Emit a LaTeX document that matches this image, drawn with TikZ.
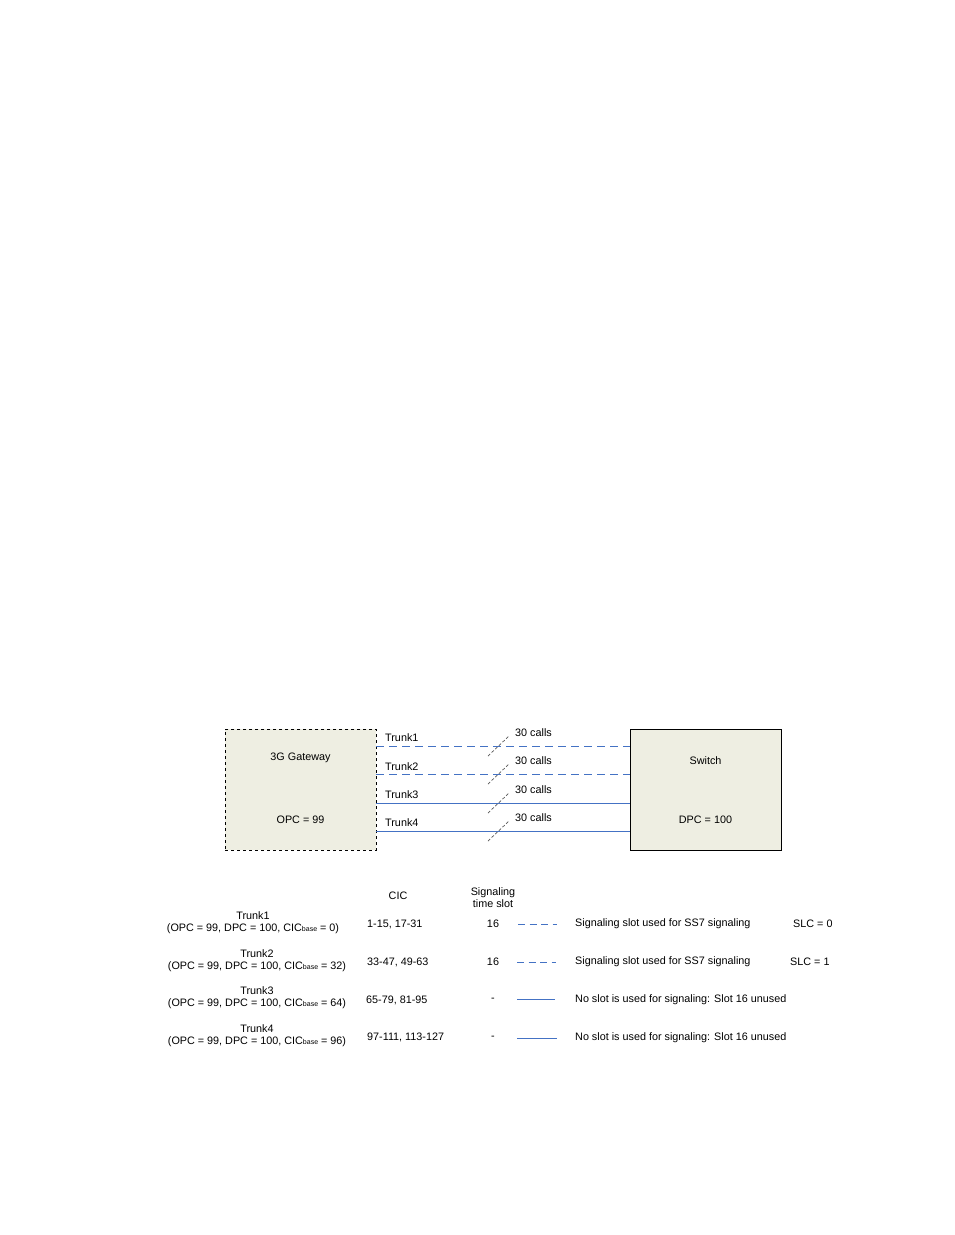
\documentclass[tikz,border=0pt]{standalone}
\usepackage{fontspec}
\setmainfont{Liberation Sans}
\begin{document}
\begin{tikzpicture}[x=1pt,y=-1pt,
  every node/.style={font=\fontsize{10.8}{12}\selectfont, inner sep=0pt},
  box/.style={fill=boxfill, draw=black, line width=0.8pt},
  sigline/.style={draw=lineblue, line width=0.9pt, dash pattern=on 8pt off 5pt},
  plainline/.style={draw=lineblue, line width=0.9pt},
  slashline/.style={draw=black!65, line width=0.7pt, dash pattern=on 3pt off 2pt},
  lbl/.style={anchor=west},
  ]
\definecolor{boxfill}{RGB}{238,238,226}
\definecolor{lineblue}{RGB}{68,114,196}
\useasboundingbox (0,0) rectangle (954,1235);
\fill[white] (0,0) rectangle (954,1235);

% boxes
\node[box, dashed, minimum width=151pt, minimum height=121pt, anchor=north west] (gw) at (225,729) {};
\node[box, minimum width=151pt, minimum height=121pt, anchor=north west] (sw) at (630,729) {};
\node (gwt) at (300.5,758) {3G Gateway};
\node (gwo) at (300.5,820) {OPC = 99};
\node (swt) at (705.5,761) {Switch};
\node (swd) at (705.5,820) {DPC = 100};

% trunk endpoints
\coordinate (a1) at (376,746); \coordinate (b1) at (630,746);
\coordinate (a2) at (376,774); \coordinate (b2) at (630,774);
\coordinate (a3) at (376,803); \coordinate (b3) at (630,803);
\coordinate (a4) at (376,831); \coordinate (b4) at (630,831);
\draw[sigline] (a1) -- (b1);
\draw[sigline] (a2) -- (b2);
\draw[plainline] (a3) -- (b3);
\draw[plainline] (a4) -- (b4);

\node[lbl] (t1) at (385,738) {Trunk1};
\node[lbl] (t2) at (385,767) {Trunk2};
\node[lbl] (t3) at (385,795) {Trunk3};
\node[lbl] (t4) at (385,823) {Trunk4};

% slashes and call labels
\foreach \i/\y in {1/746,2/774,3/803,4/831}{
  \coordinate (s\i a) at (488,\y+10);
  \coordinate (s\i b) at (509,\y-10);
  \draw[slashline] (s\i a) -- (s\i b);
  \node[lbl] (c\i) at (515,\y-13) {30 calls};
}

% table header
\node (hcic) at (398,896) {CIC};
\node[align=center] (hsig) at (493,898) {Signaling\\time slot};

% rows
\newcommand{\cicb}{CIC{\fontsize{7}{8}\selectfont base}}
\node (r1a) at (253,916) {Trunk1};
\node (r1b) at (253,929) {(OPC = 99, DPC = 100, \cicb\ = 0)};
\node (r2a) at (257,954) {Trunk2};
\node (r2b) at (257,967) {(OPC = 99, DPC = 100, \cicb\ = 32)};
\node (r3a) at (257,991) {Trunk3};
\node (r3b) at (257,1004) {(OPC = 99, DPC = 100, \cicb\ = 64)};
\node (r4a) at (257,1029) {Trunk4};
\node (r4b) at (257,1042) {(OPC = 99, DPC = 100, \cicb\ = 96)};

\node[lbl] (k1) at (367,924) {1-15, 17-31};
\node[lbl] (k2) at (367,962) {33-47, 49-63};
\node[lbl] (k3) at (366,1000) {65-79, 81-95};
\node[lbl] (k4) at (367,1037) {97-111, 113-127};

\node (n1) at (493,924) {16};
\node (n2) at (493,962) {16};
\node (n3) at (493,1000) {-};
\node (n4) at (493,1038) {-};

\coordinate (l1a) at (518,924); \coordinate (l1b) at (557,924);
\coordinate (l2a) at (517,962); \coordinate (l2b) at (556,962);
\coordinate (l3a) at (517,999); \coordinate (l3b) at (555,999);
\coordinate (l4a) at (517,1038); \coordinate (l4b) at (557,1038);
\draw[draw=lineblue, line width=0.8pt, dash pattern=on 7pt off 4.5pt] (l1a) -- (l1b);
\draw[draw=lineblue, line width=0.8pt, dash pattern=on 7pt off 4.5pt] (l2a) -- (l2b);
\draw[draw=lineblue, line width=0.8pt] (l3a) -- (l3b);
\draw[draw=lineblue, line width=0.8pt] (l4a) -- (l4b);

\node[lbl] (d1) at (575,924) {Signaling slot used for SS7 signaling};
\node[lbl] (d2) at (575,962) {Signaling slot used for SS7 signaling};
\node[lbl] (d3) at (575,1000) {No slot is used for signaling: Slot 16 unused};
\node[lbl] (d4) at (575,1038) {No slot is used for signaling: Slot 16 unused};

\node[lbl] (slc0) at (793,924) {SLC = 0};
\node[lbl] (slc1) at (790,962) {SLC = 1};
\end{tikzpicture}
\end{document}
